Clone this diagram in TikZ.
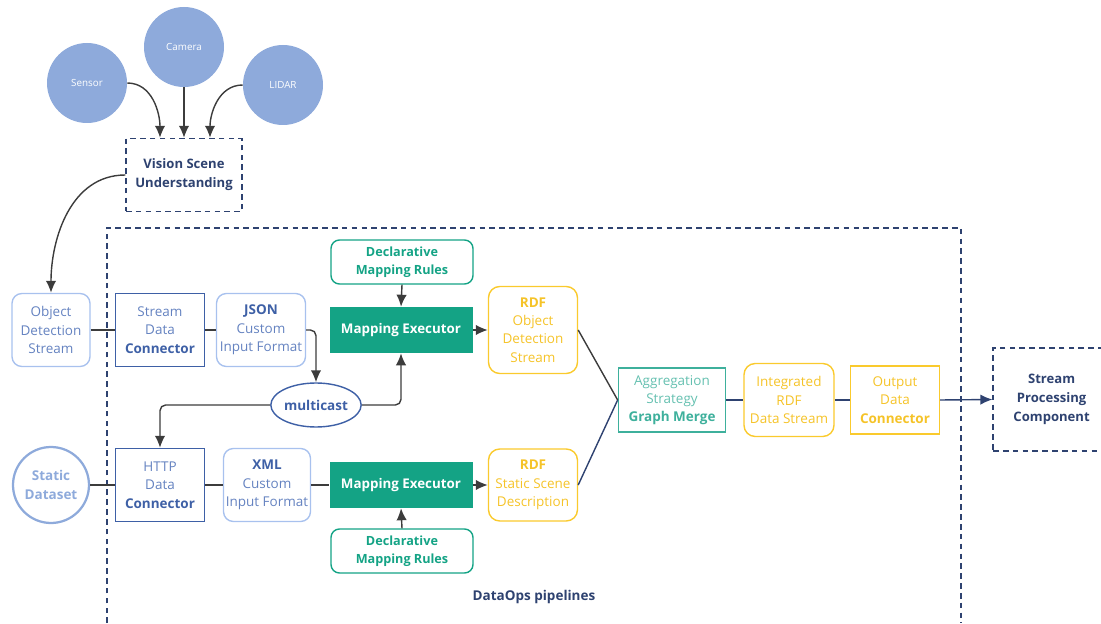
\documentclass[tikz,border=0pt]{standalone}
\usepackage{fontspec}
\setmainfont{Open Sans}
\usetikzlibrary{shapes.geometric,arrows.meta,positioning,calc}
\definecolor{SrcBlue}{RGB}{142,170,219}
\definecolor{Navy}{RGB}{46,66,112}
\definecolor{LightBlue}{RGB}{168,193,238}
\definecolor{LightText}{RGB}{100,130,192}
\definecolor{MidBlue}{RGB}{62,96,166}
\definecolor{MapGreen}{RGB}{20,163,133}
\definecolor{AggTeal}{RGB}{62,176,156}
\definecolor{RdfYellow}{RGB}{250,202,45}
\definecolor{RdfText}{RGB}{245,195,40}
\definecolor{LineGray}{RGB}{60,60,60}

\begin{document}
\begin{tikzpicture}[
  >={Latex[length=3mm,width=2.6mm]},
  src/.style={circle,fill=SrcBlue,minimum size=2cm,inner sep=0pt,
              text=white,font=\fontsize{7}{9}\selectfont},
  vbox/.style={draw=Navy,dash pattern=on 4pt off 3pt,line width=1pt,
               text=Navy,align=center,font=\fontsize{9.3}{13.5}\selectfont\bfseries},
  inbox/.style={draw=LightBlue,rounded corners=7pt,line width=1pt,
                minimum width=2.2cm,minimum height=1.825cm,inner sep=1pt,
                text=LightText,align=center,font=\fontsize{9.6}{13}\selectfont},
  conn/.style={draw=MidBlue,line width=1pt,minimum width=2.225cm,minimum height=1.825cm,
               inner sep=1pt,text=LightText,align=center,font=\fontsize{9.6}{13}\selectfont},
  rules/.style={draw=MapGreen,rounded corners=6pt,line width=1pt,
                minimum width=3.55cm,minimum height=1.1cm,inner sep=1pt,
                text=MapGreen,align=center,font=\fontsize{9}{12.8}\selectfont\bfseries},
  mapexec/.style={fill=MapGreen,minimum width=3.575cm,minimum height=1.15cm,
                  text=white,font=\fontsize{9.5}{12}\selectfont\bfseries},
  rdf/.style={draw=RdfYellow,rounded corners=8pt,line width=1pt,
              minimum width=2.225cm,inner sep=1pt,
              text=RdfText,align=center,font=\fontsize{9.6}{13}\selectfont},
  plain/.style={LineGray,line width=1pt},
  navyline/.style={Navy,line width=1pt},
]
\useasboundingbox (0,0) rectangle (27.525,15.575);

\node[src] (sensor) at (2.175,13.5) {Sensor};
\node[src] (camera) at (4.6,14.4) {Camera};
\node[src] (lidar) at (7.075,13.45) {LIDAR};
\node[vbox,minimum width=2.9cm,minimum height=1.825cm] (vsu) at (4.6,11.2)
  {Vision Scene\\Understanding};

\draw[Navy,dash pattern=on 4pt off 3pt,line width=0.9pt]
  (2.675,0) -- (2.675,9.875) -- (24.025,9.875) -- (24.025,0);
\node[text=Navy,font=\fontsize{9.6}{11}\selectfont\bfseries] (dataops) at (13.35,0.65)
  {DataOps pipelines};

\node[inbox,minimum width=1.95cm] (ods) at (1.275,7.325)
  {Object\\Detection\\Stream};
\node[conn] (sdc) at (4.0,7.325)
  {Stream\\Data\\\textcolor{MidBlue}{\textbf{Connector}}};
\node[inbox,minimum width=2.225cm] (json) at (6.525,7.325)
  {\textcolor{MidBlue}{\textbf{JSON}}\\Custom\\Input Format};
\node[rules] (rulestop) at (10.05,9.025) {Declarative\\Mapping Rules};
\node[mapexec] (metop) at (10.025,7.325) {Mapping Executor};
\node[rdf,minimum height=2.175cm] (rdfod) at (13.325,7.325)
  {\textbf{RDF}\\Object\\Detection\\Stream};
\node[ellipse,draw=MidBlue,line width=1pt,minimum width=2.225cm,minimum height=1.1cm,
      inner sep=0pt,text=MidBlue,font=\fontsize{9.6}{12}\selectfont\bfseries]
  (mcast) at (7.9,5.45) {multicast};

\node[circle,draw=SrcBlue,line width=1.6pt,minimum size=1.9cm,inner sep=0pt,align=center,
      text=SrcBlue,font=\fontsize{9.6}{13}\selectfont\bfseries]
  (static) at (1.275,3.45) {Static\\Dataset};
\node[conn] (http) at (4.0,3.45)
  {HTTP\\Data\\\textcolor{MidBlue}{\textbf{Connector}}};
\node[inbox,minimum width=2.175cm] (xml) at (6.675,3.45)
  {\textcolor{MidBlue}{\textbf{XML}}\\Custom\\Input Format};
\node[mapexec] (mebot) at (10.025,3.45) {Mapping Executor};
\node[rules] (rulesbot) at (10.05,1.8) {Declarative\\Mapping Rules};
\node[rdf,minimum height=1.8cm] (rdfst) at (13.325,3.45)
  {\textbf{RDF}\\Static Scene\\Description};

\node[draw=AggTeal,line width=1.2pt,minimum width=2.675cm,minimum height=1.6cm,inner sep=1pt,
      align=center,text=AggTeal!80,font=\fontsize{9.6}{13}\selectfont]
  (merge) at (16.8,5.575) {Aggregation\\Strategy\\\textcolor{AggTeal}{\textbf{Graph Merge}}};
\node[rdf,minimum width=2.25cm,minimum height=1.825cm] (integ) at (19.725,5.575)
  {Integrated\\RDF\\Data Stream};
\node[draw=RdfYellow,line width=1pt,minimum width=2.225cm,minimum height=1.7cm,inner sep=1pt,
      align=center,text=RdfText,font=\fontsize{9.6}{13}\selectfont]
  (output) at (22.375,5.575) {Output\\Data\\\textbf{Connector}};
\node[vbox,minimum width=2.925cm,minimum height=2.575cm] (spc) at (26.29,5.5875)
  {Stream\\Processing\\Component};

\draw[->,plain] (sensor.east) to[out=0,in=90] ([xshift=-0.6cm]vsu.north);
\draw[->,plain] (camera.south) -- (vsu.north);
\draw[->,plain] (lidar.west) to[out=180,in=90] ([xshift=0.65cm]vsu.north);
\draw[->,plain] (vsu.west) to[out=180,in=90] (ods.north);

\draw[plain] (ods.east) -- (sdc.west);
\draw[plain] (sdc.east) -- (json.west);
\draw[->,plain,rounded corners=4pt] (json.east) -| (mcast.north);
\draw[->,plain,rounded corners=4pt] (mcast.east) -| (metop.south);
\draw[->,plain,rounded corners=4pt] (mcast.west) -| (http.north);
\draw[->,plain] (rulestop.south) -- (metop.north);
\draw[->,plain] (metop.east) -- (rdfod.west);

\draw[plain] (static.east) -- (http.west);
\draw[plain] (http.east) -- (xml.west);
\draw[plain] (xml.east) -- (mebot.west);
\draw[->,plain] (rulesbot.north) -- (mebot.south);
\draw[->,plain] (mebot.east) -- (rdfst.west);

\draw[plain] (rdfod.east) -- (merge.west);
\draw[navyline] (rdfst.east) -- (merge.west);
\draw[navyline] (merge.east) -- (integ.west);
\draw[navyline] (integ.east) -- (output.west);
\draw[->,navyline] (output.east) -- (spc.west);
\end{tikzpicture}
\end{document}
